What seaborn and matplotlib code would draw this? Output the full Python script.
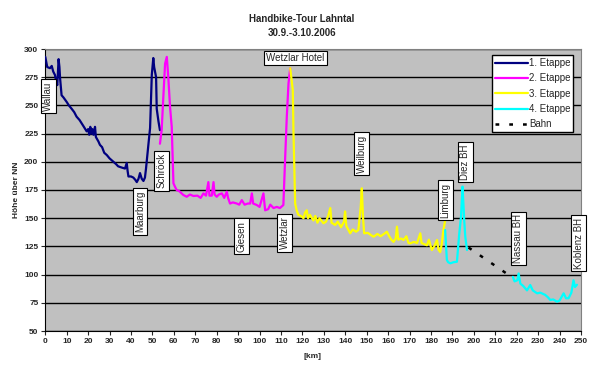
import numpy as np
import pandas as pd
import seaborn as sns
import matplotlib
matplotlib.use("Agg")
import matplotlib.pyplot as plt
from matplotlib.lines import Line2D

# profile data (km, height above sea level)
km_1 = [0, 0.9, 2.2, 3.0, 3.7, 4.5, 5.2, 5.6, 6.2, 6.6, 6.9, 7.6, 8.5, 10, 11, 12.3, 13.5,
        14.6, 16, 17, 18, 19.3, 20, 20.5, 21, 21.5, 22, 22.5, 23.2, 23.6, 24.8, 25.5, 26.5,
        27.5, 28.7, 30, 31.8, 33, 34, 35.5, 37.2, 38, 38.4, 38.8, 40, 41.1, 42, 42.7, 43.5,
        44.2, 45, 45.8, 46.5, 47, 48.1, 48.9, 49.7, 50.4, 50.8, 51.2, 51.7, 52, 52.8, 53.5]
h_1 = [293, 284, 283, 285, 280, 277, 270, 268, 291, 284, 274, 259, 257, 253, 250, 247, 244,
       240, 237, 234, 231, 227, 229, 224, 231, 225, 229, 224, 231, 222, 218, 215, 213,
       208, 206, 203, 200, 198, 196, 195, 194, 199, 192, 187, 187, 186, 184, 182, 185,
       190, 185, 183, 186, 194, 215, 230, 277, 292, 284, 280, 275, 247, 236, 228]

km_2 = [53.5, 54.3, 55.1, 55.9, 56.7, 57.4, 58.2, 59, 59.8, 60.5, 61.3, 62.5, 64.4, 66, 67.5,
        69.1, 71, 72.5, 73.8, 75, 76.1, 76.6, 77.7, 78.5, 79.0, 80, 81, 82.4, 83.5, 84.7,
        85.3, 86.2, 87.5, 89.4, 90.5, 91.7, 93, 94.5, 95.6, 96.4, 97, 98.7, 100, 101.8,
        102.6, 104, 105, 106.5, 108, 109.5, 111.1, 111.9, 112.7, 113.5, 114.3]
h_2 = [216, 228, 258, 287, 293, 275, 249, 231, 181, 178, 175, 174, 170.6, 169, 171,
       169.7, 170, 168, 172, 170, 182, 170, 170, 182, 171, 169, 171, 172, 168, 173.5,
       168, 163, 164, 163, 162, 166, 162, 163, 163, 172, 163, 161.7, 160, 172,
       157, 158, 162, 159, 160, 159, 161.7, 201.6, 240, 269.6, 283]

km_3 = [114.3, 114.6, 115.5, 115.8, 116.6, 117.3, 118.1, 119.3, 120.5, 121.2, 122, 122.6,
        123.5, 125.1, 126, 127, 128, 129.8, 131, 132, 133, 133.6, 135.3, 136.5, 138, 139.4,
        139.9, 140.5, 142.3, 143.5, 145, 146.1, 147.2, 147.7, 148.3, 148.8, 150.5, 152,
        153.2, 155, 156.5, 158, 159.4, 160.5, 161.5, 162.5, 163.5, 164.1, 164.7, 166,
        167.2, 168.5, 169.5, 170.3, 172, 173.5, 175, 175.6, 176.8, 178.1, 179, 180.4,
        181.5, 182.8, 183.5, 184.3, 185, 185.8, 186.6]
h_3 = [283, 278, 263.6, 228, 163, 157, 153, 152, 150, 155, 157, 150,
       153, 148, 152, 146, 150, 145.5, 147, 152, 159, 146, 144, 147, 142, 147,
       156, 143, 136.6, 140, 138, 139.5, 160, 176.5, 150, 136.6, 137, 135,
       133.6, 136, 134, 136, 138, 134, 131, 129, 132, 142.5, 131, 132,
       130.7, 134, 128, 127.7, 129, 128, 136.6, 128, 127, 126, 131, 121.8,
       125, 130.7, 122, 120, 127, 139.5, 148]

# stage 4 has two parts, the train ride lies between them
km_4a = [186.6, 187.4, 188, 189, 190.5, 192.1, 193.2, 194, 194.7, 195.2, 195.5, 196, 196.8]
h_4a = [139.5, 113, 111, 110, 111, 111.4, 136.6, 151, 178, 160, 148, 133.6, 121.8]
km_4b = [218.2, 219, 220.3, 220.9, 221.7, 223, 224.8, 226.3, 227.5, 229.5, 231, 233.3,
         234.5, 235.7, 237, 238.8, 240, 241.9, 243, 244.2, 245.5, 246.5, 247.2, 248.1]
h_4b = [98, 94, 95, 101, 92, 90, 86, 90.8, 86, 83.4, 84, 82,
        80, 77.5, 78, 76, 77, 83.4, 79, 79, 84, 95, 89, 91]

km_bahn = [197.5, 216]
h_bahn = [124, 100]

stages = ["1. Etappe", "2. Etappe", "3. Etappe", "4. Etappe"]
colors = ["#000080", "#FF00FF", "#FFFF00", "#00FFFF"]

# place names: (text, km, height, rotation)
places = [
    ("Wallau", 1.4, 258, 90),
    ("Maarburg", 44.2, 156, 90),
    ("Schröck", 54.2, 192, 90),
    ("Giesen", 91.7, 134, 90),
    ("Wetzlar", 111.8, 137, 90),
    ("Wetzlar Hotel", 116.6, 292, 0),
    ("Weilburg", 147.7, 207, 90),
    ("Limburg", 186.8, 166, 90),
    ("Diez BH", 196.0, 200, 90),
    ("Nassau BH", 220.7, 132, 90),
    ("Koblenz BH", 249.0, 128, 90),
]

sns.set_style("white")
plt.rcParams["font.family"] = ["Liberation Sans", "DejaVu Sans"]

fig = plt.figure(figsize=(6.04, 3.75), dpi=100)
ax = fig.add_axes([45.3 / 604, 44 / 375, 535.7 / 604, 282 / 375])
ax.set_facecolor("#C0C0C0")

parts = [(km_1, h_1, 0), (km_2, h_2, 1), (km_3, h_3, 2), (km_4a, h_4a, 3), (km_4b, h_4b, 3)]
for k, h, i in parts:
    df = pd.DataFrame({"km": k, "hoehe": h})
    sns.lineplot(data=df, x="km", y="hoehe", ax=ax, color=colors[i], linewidth=1.6,
                 estimator=None, sort=False, zorder=3)

df_bahn = pd.DataFrame({"km": km_bahn, "hoehe": h_bahn})
sns.lineplot(data=df_bahn, x="km", y="hoehe", ax=ax, color="black", linewidth=1.8,
             estimator=None, zorder=3, dashes=False)
ax.lines[-1].set_dashes((1.5, 4))

for txt, k, h, rot in places:
    ax.text(k, h, txt, rotation=rot, ha="center", va="center", fontsize=7, zorder=5,
            bbox=dict(boxstyle="square,pad=0.25", fc="white", ec="black", lw=0.8))

ax.set_xlim(0, 250)
ax.set_ylim(50, 300)
ax.set_xticks(np.arange(0, 251, 10))
ax.set_yticks(np.arange(50, 301, 25))
ax.grid(axis="y", color="black", linewidth=1)
ax.set_axisbelow(True)
ax.tick_params(axis="both", direction="out", length=3, width=0.8, labelsize=6, pad=2,
               left=True, bottom=True)
for lab in ax.get_xticklabels() + ax.get_yticklabels():
    lab.set_fontweight("bold")
for s in ["top", "right"]:
    ax.spines[s].set_color("#808080")
for s in ["left", "bottom"]:
    ax.spines[s].set_color("black")
for s in ax.spines.values():
    s.set_linewidth(0.8)

ax.set_xlabel("")
ax.set_ylabel("")
fig.text(312.7 / 604, 1 - 357 / 375, "[km]", ha="center", va="center", fontsize=6,
         fontweight="bold")
fig.text(17 / 604, 1 - 190 / 375, "Höhe über NN", rotation=90, ha="center", va="center",
         fontsize=6, fontweight="bold")
fig.text(0.5, 1 - 19.5 / 375, "Handbike-Tour Lahntal", ha="center", va="center",
         fontsize=7, fontweight="bold")
fig.text(0.5, 1 - 32.5 / 375, "30.9.-3.10.2006", ha="center", va="center",
         fontsize=7, fontweight="bold")

handles = [Line2D([], [], color=c, lw=1.6) for c in colors]
handles.append(Line2D([], [], color="black", lw=1.8, dashes=(1.5, 4)))
leg = ax.legend(handles, stages + ["Bahn"], loc="upper right",
                bbox_to_anchor=(0.9856, 0.9787), borderaxespad=0, fontsize=7,
                frameon=True, fancybox=False, edgecolor="black", framealpha=1,
                handlelength=3.4, handletextpad=0.1, labelspacing=0.55, borderpad=0.3)
leg.get_frame().set_linewidth(1)
leg.set_zorder(6)

fig.savefig("out.png", dpi=100)
